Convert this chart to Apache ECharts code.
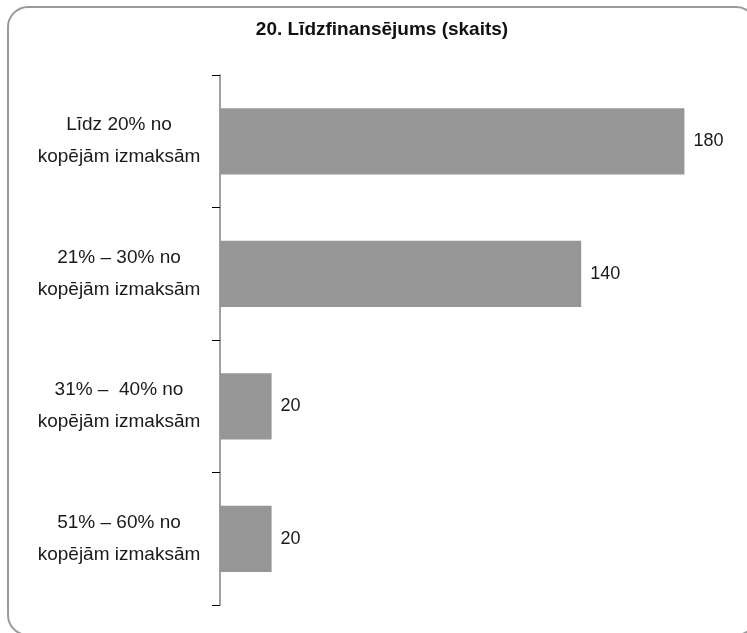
<!DOCTYPE html>
<html>
<head>
<meta charset="utf-8">
<script src="https://cdn.jsdelivr.net/npm/echarts@6/dist/echarts.min.js"></script>
<style>
    html, body { margin: 0; padding: 0; background: #fff; }
    #chart { width: 747px; height: 633px; }
</style>
</head>
<body>
<div id="chart"></div>
<script>
const categories = [
    'Līdz 20% no\nkopējām izmaksām',
    '21% – 30% no\nkopējām izmaksām',
    '31% –  40% no\nkopējām izmaksām',
    '51% – 60% no\nkopējām izmaksām'
];
const counts = [180, 140, 20, 20];
const titleText = '20. Līdzfinansējums (skaits)';

const chart = echarts.init(document.getElementById('chart'));

const option = {
    animation: false,
    textStyle: { fontFamily: '"Liberation Sans", Arial, sans-serif' },
    graphic: [
        {
            type: 'rect',
            shape: { x: 8, y: 7, width: 748, height: 628, r: 20 },
            style: { fill: 'none', stroke: '#9a9a9a', lineWidth: 2 },
            z: -1
        }
    ],
    title: {
        text: titleText,
        left: 377,
        top: 15,
        textAlign: 'center',
        textStyle: {
            fontFamily: '"Liberation Sans", Arial, sans-serif',
            fontSize: 19,
            fontWeight: 'bold',
            color: '#111'
        }
    },
    grid: {
        left: 220,
        top: 75,
        width: 516,
        height: 530,
        containLabel: false
    },
    xAxis: {
        type: 'value',
        min: 0,
        max: 200,
        show: false
    },
    yAxis: {
        type: 'category',
        data: categories,
        inverse: true,
        axisLine: { show: true, lineStyle: { color: '#808080', width: 1.5 } },
        axisTick: { show: true, length: 8, lineStyle: { color: '#000', width: 1 } },
        axisLabel: {
            align: 'center',
            margin: 101,
            fontSize: 19,
            lineHeight: 32,
            color: '#1a1a1a'
        },
        splitLine: { show: false }
    },
    series: [
        {
            type: 'bar',
            data: counts,
            barCategoryGap: '50%',
            itemStyle: { color: '#969696' },
            label: {
                show: true,
                position: 'right',
                distance: 9,
                fontSize: 18,
                color: '#1a1a1a'
            }
        }
    ]
};

chart.setOption(option);
</script>
</body>
</html>
